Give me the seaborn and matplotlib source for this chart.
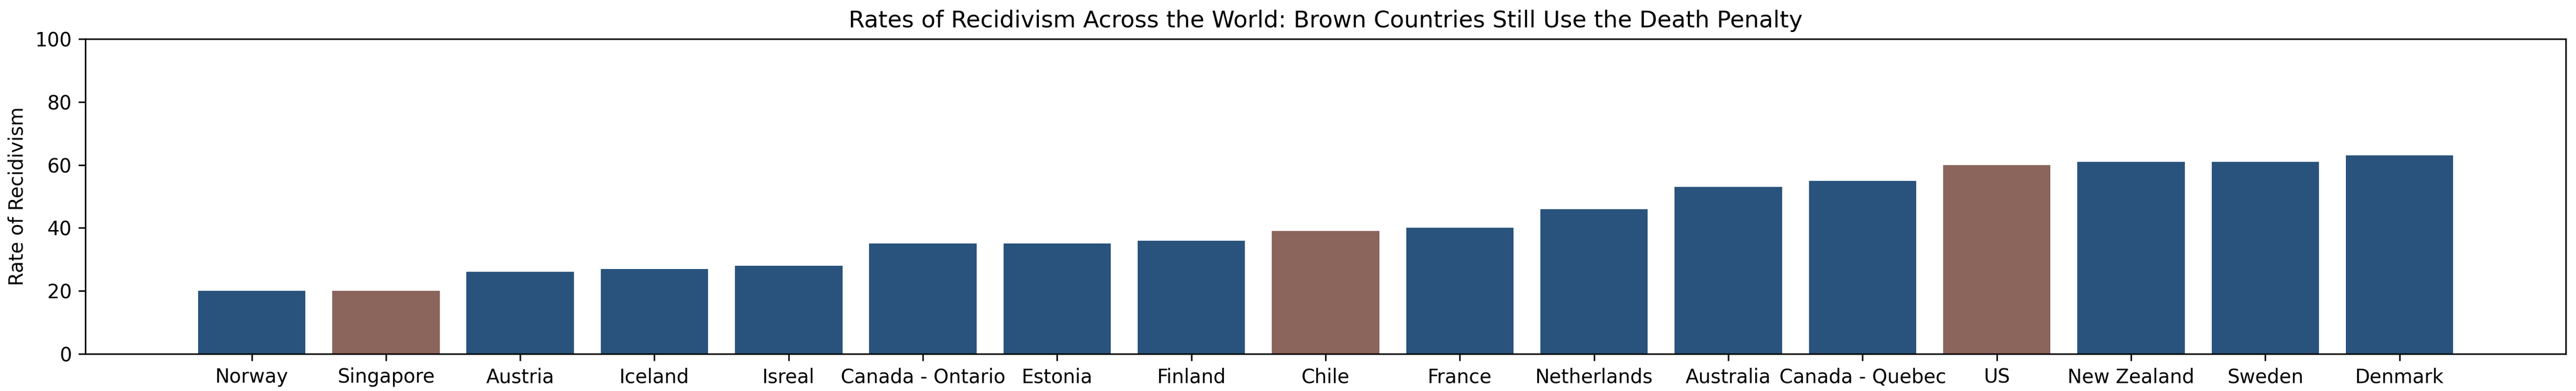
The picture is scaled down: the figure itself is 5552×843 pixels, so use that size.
import pandas as pd
import matplotlib
matplotlib.use("Agg")
import matplotlib.pyplot as plt
import seaborn as sns

# ── Data ──────────────────────────────────────────────────
countries = ["Norway", "Singapore", "Austria", "Iceland", "Isreal",
             "Canada - Ontario", "Estonia", "Finland", "Chile", "France",
             "Netherlands", "Australia", "Canada - Quebec", "US",
             "New Zealand", "Sweden", "Denmark"]
rates = [20, 20, 26, 27, 28, 35, 35, 36, 39, 40, 46, 53, 55, 60, 61, 61, 63]
death_penalty = ["Singapore", "Chile", "US"]

df = pd.DataFrame({"Country": countries, "Rate": rates})
df["Death Penalty"] = df["Country"].isin(death_penalty).map({True: "yes", False: "no"})

palette = {"no": "#29537c", "yes": "#8b645c"}

# ── Plot ──────────────────────────────────────────────────
fig = plt.figure(figsize=(5552 / 300, 843 / 300), dpi=300)
ax = fig.add_axes([0.0331, 0.0949, 0.9630, 0.8055])

sns.barplot(data=df, x="Country", y="Rate", hue="Death Penalty",
            palette=palette, legend=False, width=0.8, saturation=1,
            dodge=False, ax=ax)

ax.set_xlim(-1.24, len(countries) - 1 + 1.24)
ax.set_ylim(0, 100)
ax.set_title("Rates of Recidivism Across the World: Brown Countries Still Use the Death Penalty")
ax.set_xlabel("")
ax.set_ylabel("Rate of Recidivism")

fig.savefig("out.png", dpi=300)
plt.close(fig)
